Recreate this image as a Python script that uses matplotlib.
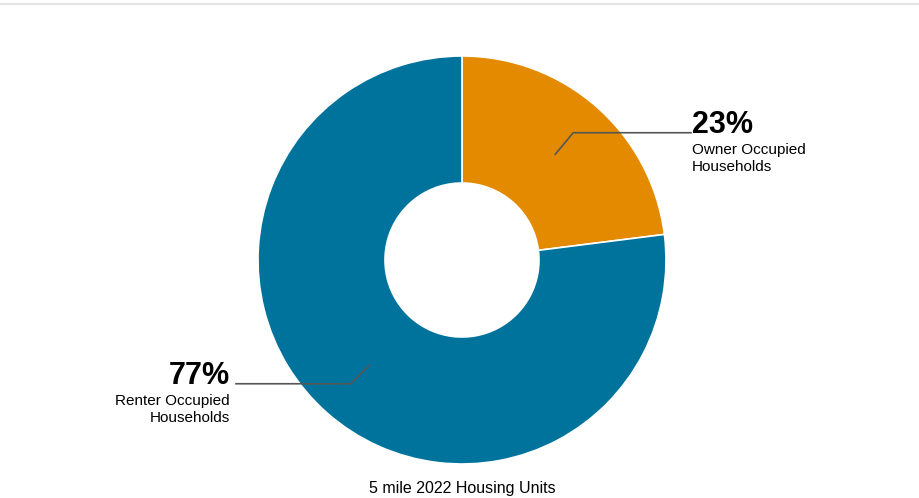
import numpy as np
import matplotlib
matplotlib.use("Agg")
import matplotlib.pyplot as plt

# housing tenure, 5 mile radius
labels = ["Owner Occupied\nHouseholds", "Renter Occupied\nHouseholds"]
shares = [23, 77]
colors = ["#e48a00", "#00739d"]
title = "5 mile 2022 Housing Units"

plt.rcParams["font.family"] = ["Liberation Sans", "DejaVu Sans"]

W, H = 920, 498
fig = plt.figure(figsize=(W / 100, H / 100), dpi=100)
ax = fig.add_axes([0, 0, 1, 1])

cx, cy = 462, H - 260
R, r_in = 204, 77

wedges, _ = ax.pie(shares, colors=colors, startangle=90, counterclock=False,
                   center=(cx, cy), radius=R,
                   wedgeprops=dict(width=R - r_in, edgecolor="white", linewidth=1.2))
ax.set_xlim(0, W)
ax.set_ylim(0, H)
ax.axis("off")

# thin rule along the top
ax.plot([0, W], [H - 4, H - 4], color="#e4e4e4", lw=1.6, solid_capstyle="butt")

# leader lines with value labels
for w, lab, val in zip(wedges, labels, shares):
    mid = np.deg2rad((w.theta1 + w.theta2) / 2)
    sx, sy = cx + 141 * np.cos(mid), cy + 141 * np.sin(mid)
    side = 1 if np.cos(mid) > 0 else -1
    ex, ey = sx + side * 18, sy + (21.5 if np.sin(mid) > 0 else -18)
    tx = 691 if side > 0 else 236
    ax.plot([sx, ex, tx], [sy, ey, ey], color="#555555", lw=1.2)
    ha = "left" if side > 0 else "right"
    x0 = tx + (1 if side > 0 else -6)
    ax.text(x0, ey, f"{val}%", ha=ha, va="baseline",
            fontsize=22, fontweight="bold", color="black")
    for i, line in enumerate(lab.split("\n")):
        ax.text(x0, ey - 21 - 17 * i, line, ha=ha, va="baseline",
                fontsize=11, color="black")

ax.text(cx, H - 493, title, ha="center", va="baseline", fontsize=11.5, color="black")

fig.savefig("out.png", dpi=100)
